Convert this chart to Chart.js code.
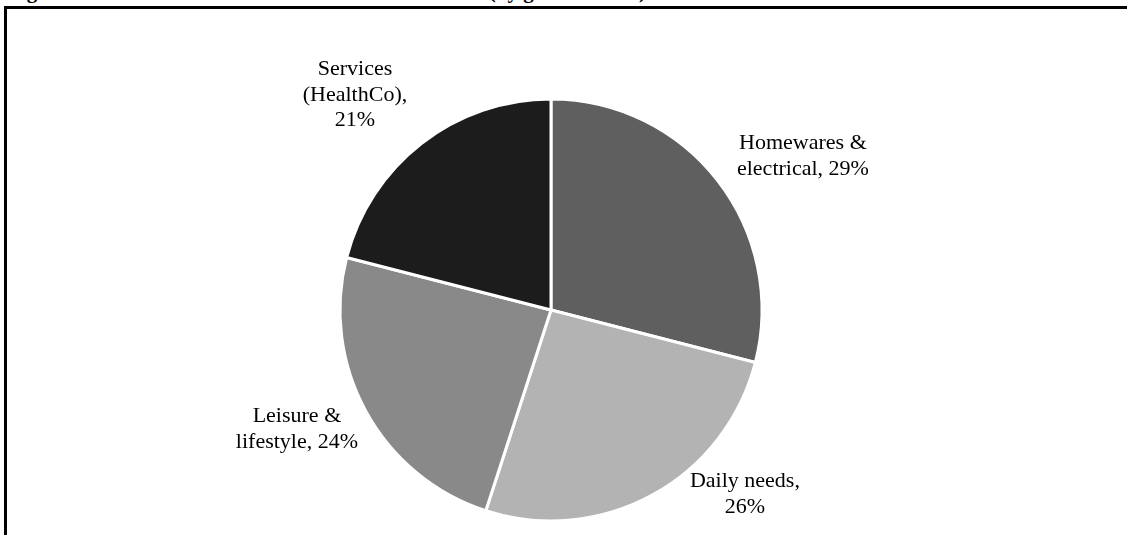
<!DOCTYPE html>
<html>
<head>
<meta charset="utf-8">
<script src="https://cdn.jsdelivr.net/npm/chart.js@4/dist/chart.umd.min.js"></script>
<style>
  html, body { margin: 0; padding: 0; background: #fff; overflow: hidden; }
  #wrap { position: relative; width: 1127px; height: 535px; }
  #title {
    position: absolute; left: 8px; top: -19px; white-space: nowrap;
    font: bold 21px "Liberation Serif", "Times New Roman", serif; line-height: 21px; color: #000;
  }
  #frame {
    position: absolute; left: 4px; top: 6px; width: 1200px; height: 600px;
    border-left: 3px solid #000; border-top: 3px solid #000;
  }
  #c { position: absolute; left: 0; top: 0; }
</style>
</head>
<body>
<div id="wrap">
  <div id="title">Figure 1: HomeCo Consolidated Portfolio tenant mix (by gross income)</div>
  <div id="frame"></div>
  <canvas id="c" width="1127" height="535"></canvas>
</div>
<script>
// tenant mix by gross income
const categories = ['Homewares & electrical', 'Daily needs', 'Leisure & lifestyle', 'Services (HealthCo)'];
const shares = [29, 26, 24, 21];
const sliceColors = ['#5f5f5f', '#b3b3b3', '#898989', '#1c1c1c'];
// label text as it is broken in the picture
const labelLines = [
    ['Homewares &', 'electrical, 29%'],
    ['Daily needs,', '26%'],
    ['Leisure &', 'lifestyle, 24%'],
    ['Services', '(HealthCo),', '21%']
];
// where each label block sits, as a fraction of the pie radius from its centre
const labelOffsets = [[1.194, -0.728], [0.919, 0.872], [-1.204, 0.564], [-0.929, -1.02]];

const pieLabels = {
    id: 'pieLabels',
    afterDatasetsDraw(chart) {
        const ctx = chart.ctx;
        const arcs = chart.getDatasetMeta(0).data;
        ctx.save();
        ctx.font = '22px "Liberation Serif", "Times New Roman", serif';
        ctx.fillStyle = '#000';
        ctx.textAlign = 'center';
        ctx.textBaseline = 'middle';
        const lh = 25.5;
        arcs.forEach((arc, i) => {
            const r = arc.outerRadius;
            const cx = arc.x + labelOffsets[i][0] * r;
            const cy = arc.y + labelOffsets[i][1] * r;
            const lines = labelLines[i];
            const top = cy - (lines.length - 1) * lh / 2;
            lines.forEach((t, j) => ctx.fillText(t, cx, top + j * lh));
        });
        ctx.restore();
    }
};

new Chart(document.getElementById('c'), {
    type: 'pie',
    data: {
        labels: categories,
        datasets: [{
            data: shares,
            backgroundColor: sliceColors,
            borderColor: '#ffffff',
            borderWidth: 3,
            radius: 211
        }]
    },
    options: {
        responsive: false,
        animation: false,
        layout: { padding: { left: 0, right: 25, top: 95, bottom: 10 } },
        plugins: {
            legend: { display: false },
            tooltip: { enabled: false }
        }
    },
    plugins: [pieLabels]
});
</script>
</body>
</html>
